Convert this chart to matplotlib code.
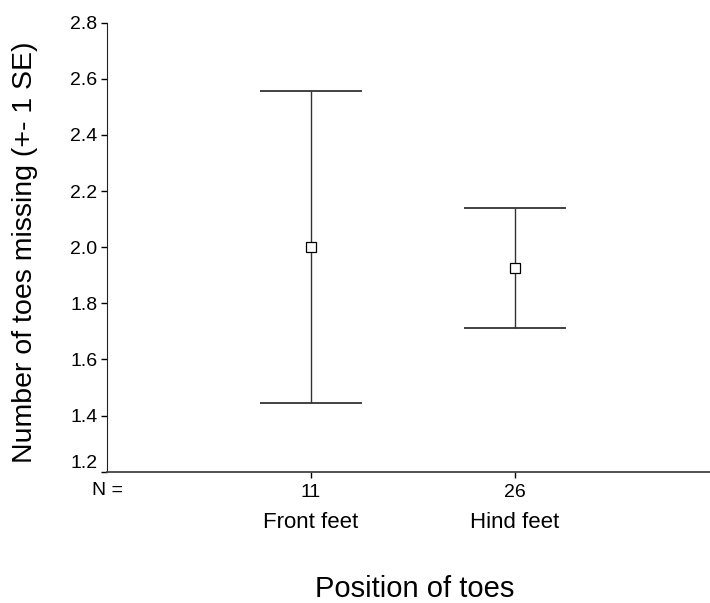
import matplotlib
matplotlib.use('Agg')
import matplotlib.pyplot as plt
import matplotlib.transforms as mtransforms

plt.rcParams['font.family'] = ['Liberation Sans', 'DejaVu Sans']

#Data
groups = ['Front feet', 'Hind feet']
n_counts = ['11', '26']
means = [2.0, 1.925]
se = [0.555, 0.213]
y_ticks = [1.2, 1.4, 1.6, 1.8, 2.0, 2.2, 2.4, 2.6, 2.8]

positions = [1, 2]
cap_half = 0.25

fig = plt.figure(figsize=(7.10, 6.03), dpi=100)
ax = fig.add_axes([107 / 710, 1 - 471.7 / 603, 612 / 710, 449 / 603])

#Error bars with caps drawn in data units
for x, m, s in zip(positions, means, se):
    ax.vlines(x, m - s, m + s, color='#333333', lw=1)
    ax.hlines([m - s, m + s], x - cap_half, x + cap_half, color='#333333', lw=1.3)
    ax.plot(x, m, marker='s', markersize=6.5, markerfacecolor='white',
            markeredgecolor='black', markeredgewidth=0.9, zorder=3)

ax.set_xlim(0, 3)
ax.set_ylim(1.2, 2.8)
ax.set_yticks(y_ticks)
ax.set_yticklabels(['%.1f' % v for v in y_ticks], fontsize=14)
ax.set_xticks(positions)
ax.set_xticklabels(n_counts, fontsize=14)
ax.tick_params(axis='both', direction='out', length=4, width=1, pad=3)
ax.tick_params(axis='x', pad=5)

#bottom label sits a little higher so it clears the x axis
ax.get_yticklabels()[0].set_verticalalignment('bottom')

for side in ['top', 'right']:
    ax.spines[side].set_visible(False)
ax.spines['left'].set_color('#222222')
ax.spines['bottom'].set_color('#444444')
ax.spines['bottom'].set_linewidth(1.3)

trans = mtransforms.blended_transform_factory(ax.transData, ax.transAxes)
ax.text(0, -0.041, 'N =', transform=trans, ha='center', va='center', fontsize=14)
for x, g in zip(positions, groups):
    ax.text(x, -0.114, g, transform=trans, ha='center', va='center', fontsize=16)

ax.set_ylabel('Number of toes missing (+- 1 SE)', fontsize=20.5)
ax.yaxis.set_label_coords(-0.113, 0.489)
fig.text(415 / 710, 1 - 597 / 603, 'Position of toes', ha='center', va='baseline', fontsize=21)

fig.savefig('out.png', dpi=100)
